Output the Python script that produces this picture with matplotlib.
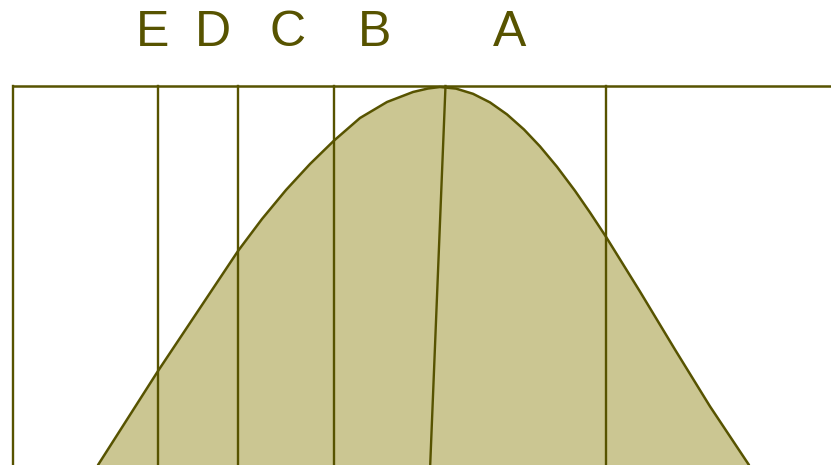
import matplotlib
matplotlib.use("Agg")
import matplotlib.pyplot as plt

# Bell curve outline (pixel units, y downwards)
curve_x = [98, 128, 158, 198, 238, 262, 286, 310, 334, 360, 387, 413, 428, 440,
           456, 473, 490, 507, 524, 540, 557, 575, 590, 606, 640, 675, 710, 749]
curve_y = [465, 418, 371, 311, 251, 219, 190, 164, 140.6, 118, 102, 92, 88.5, 87,
           88.6, 93.8, 102.4, 114.4, 129.5, 146.4, 166.8, 190.8, 212.5, 236.8,
           291.6, 349.6, 406.4, 465]

# Vertical grade boundaries
divider_x = [13, 158, 238, 334, 606]
# Slanted centre line (top x, bottom x)
centre_top_x = 445.5
centre_bottom_x = 430

# Grade labels
labels = ["E", "D", "C", "B", "A"]
label_x = [153, 213, 288, 375, 510]

top_y = 86
bottom_y = 465
right_x = 831

line_c = "#575300"
fill_c = "#cbc692"

fig = plt.figure(figsize=(8.31, 4.65), dpi=100)
ax = fig.add_axes([0, 0, 1, 1])
ax.set_xlim(0, 831)
ax.set_ylim(465, 0)
ax.axis("off")

ax.fill_between(curve_x, curve_y, bottom_y, color=fill_c, lw=0, zorder=1)
ax.plot(curve_x, curve_y, color=line_c, lw=1.8, solid_joinstyle="round",
        solid_capstyle="round", zorder=3)

for x in divider_x:
    ax.plot([x, x], [top_y, bottom_y + 5], color=line_c, lw=1.7, zorder=2)
ax.plot([divider_x[0], right_x + 5], [top_y, top_y], color=line_c, lw=1.8, zorder=2)
ax.plot([centre_top_x, centre_bottom_x], [top_y, bottom_y + 5], color=line_c, lw=1.7, zorder=2)

for lab, x in zip(labels, label_x):
    ax.text(x, 33, lab, ha="center", va="center", fontsize=36,
            family=["Liberation Sans", "DejaVu Sans"], color=line_c)

fig.savefig("out.png", dpi=100)
